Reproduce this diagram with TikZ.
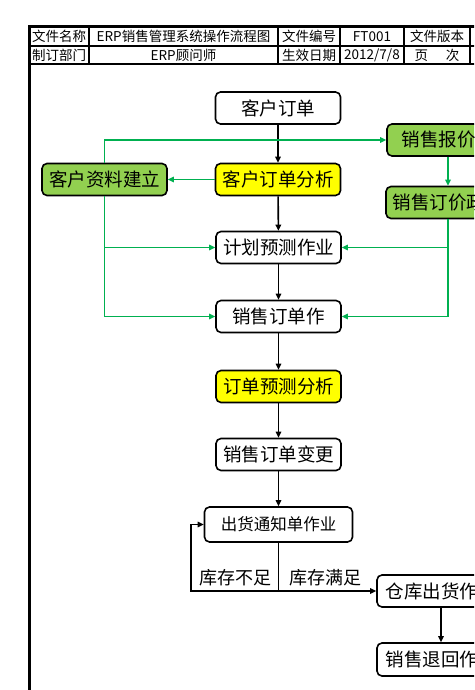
\documentclass[tikz,border=0pt]{standalone}
\usepackage{fontspec}
\setmainfont{Noto Sans CJK SC}
\usetikzlibrary{arrows.meta}

\definecolor{boxgreen}{RGB}{146,208,80}
\definecolor{boxyellow}{RGB}{255,255,0}
\definecolor{linegreen}{RGB}{0,176,80}

\tikzset{
  flowbox/.style={draw, line width=1.6pt, rounded corners=5pt, minimum width=125pt,
    minimum height=32pt, inner sep=0pt, font=\fontsize{18.5}{20}\selectfont},
  greenbox/.style={flowbox, fill=boxgreen},
  yellowbox/.style={flowbox, fill=boxyellow},
  headtext/.style={inner sep=0pt, font=\fontsize{13.5}{14}\selectfont},
  blackflow/.style={line width=1.6pt, -{Triangle[length=6pt,width=5.5pt]}},
  greenflow/.style={draw=linegreen, line width=1.8pt, -{Triangle[length=6pt,width=5.5pt]}},
}

\begin{document}
\begin{tikzpicture}[x=1pt, y=-1pt]
\clip (0,0) rectangle (474,690);

% header table
\draw[line width=3pt] (29,700) -- (29,27) -- (520,27);
\draw[line width=1.2pt] (29,46) -- (520,46);
\draw[line width=1.2pt] (29,64) -- (520,64);
\foreach \cx in {89,278,340,404,470}
  \draw[line width=1.2pt] (\cx,27) -- (\cx,64);

\node[headtext] (hname) at (59,36.5) {文件名称};
\node[headtext] (htitle) at (183.5,36.5) {ERP销售管理系统操作流程图};
\node[headtext] (hcode) at (309,36.5) {文件编号};
\node[headtext] (hcodev) at (372,36.5) {FT001};
\node[headtext] (hver) at (437,36.5) {文件版本};
\node[headtext] (hdept) at (59,55) {制订部门};
\node[headtext] (hdeptv) at (183.5,55) {ERP顾问师};
\node[headtext] (hdate) at (309,55) {生效日期};
\node[headtext] (hdatev) at (372,55) {2012/7/8};
\node[headtext] (hpage) at (437,55) {页\hspace{1.3em}次};

% flow
\node[flowbox] (order) at (278,108) {客户订单};
\node[yellowbox] (analysis) at (278,179.5) {客户订单分析};
\node[greenbox] (custdata) at (104.5,179.5) {客户资料建立};
\node[greenbox, minimum width=122pt] (quote) at (448,140) {销售报价单};
\node[greenbox, minimum width=124pt] (pricing) at (448,202.5) {销售订价政策};
\node[flowbox] (plan) at (278.5,247.5) {计划预测作业};
\node[flowbox] (salesorder) at (278.5,316.5) {销售订单作};
\node[yellowbox] (forecast) at (278.5,386.5) {订单预测分析};
\node[flowbox] (change) at (278.5,454.5) {销售订单变更};
\node[flowbox, minimum width=148pt, minimum height=35pt, font=\fontsize{16.5}{18}\selectfont] (ship) at (278.5,524.5) {出货通知单作业};
\node[flowbox, minimum width=128pt] (warehouse) at (441,591) {仓库出货作业};
\node[flowbox, minimum width=128pt, minimum height=33pt] (returns) at (441,659.5) {销售退回作业};

\coordinate (split) at (278.5,591);
\coordinate (loopcorner) at (191,591);

\draw[blackflow] (order) -- (analysis);
\draw[blackflow] (analysis) -- (plan);
\draw[blackflow] (plan) -- (salesorder);
\draw[blackflow] (salesorder) -- (forecast);
\draw[blackflow] (forecast) -- (change);
\draw[blackflow] (change) -- (ship);
\draw[line width=1.6pt] (ship.south) -- (split);
\draw[blackflow] (split) -- (loopcorner) |- (ship.west);
\draw[blackflow] (split) -- (warehouse.west);
\draw[blackflow] (warehouse) -- (returns);

\node[font=\fontsize{18}{20}\selectfont, inner sep=0pt] (lackstock) at (235,578) {库存不足};
\node[font=\fontsize{18}{20}\selectfont, inner sep=0pt] (enoughstock) at (325,578) {库存满足};

\draw[greenflow] (analysis) -- (custdata);
\draw[greenflow] (custdata.north) |- (quote.west);
\draw[greenflow] (quote) -- (pricing);
\draw[greenflow] (custdata.south) |- (plan.west);
\draw[greenflow] (custdata.south) |- (salesorder.west);
\draw[greenflow] (pricing.south) |- (plan.east);
\draw[greenflow] (pricing.south) |- (salesorder.east);
\end{tikzpicture}
\end{document}
